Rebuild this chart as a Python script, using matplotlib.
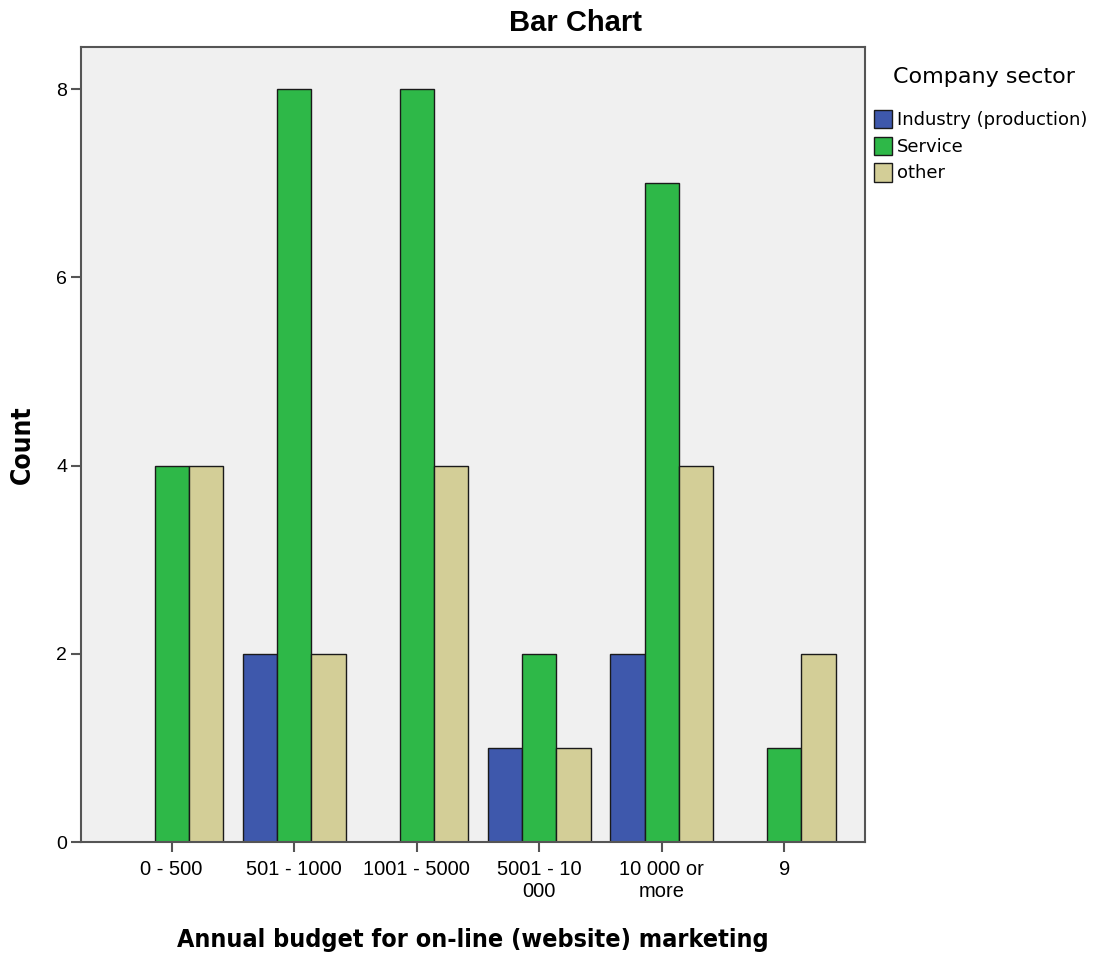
import numpy as np
import matplotlib
matplotlib.use("Agg")
import matplotlib.pyplot as plt
from matplotlib.patches import Patch

categorias = ["0 - 500", "501 - 1000", "1001 - 5000", "5001 - 10\n000", "10 000 or\nmore", "9"]
sectores = ["Industry (production)", "Service", "other"]
industria = [0, 2, 0, 1, 2, 0]
servicio = [4, 8, 8, 2, 7, 1]
otro = [4, 2, 4, 1, 4, 2]

colores = ["#3E58AC", "#2EB848", "#D3CE97"]
arial = ["Liberation Sans", "DejaVu Sans"]

fig = plt.figure(figsize=(11.02, 9.56), dpi=100)
ax = fig.add_axes([0.0735, 0.119, 0.7115, 0.832])
ax.set_facecolor("#F0F0F0")

x = np.arange(len(categorias))
ancho = 0.28
for i, (serie, color) in enumerate(zip([industria, servicio, otro], colores)):
    ax.bar(x + (i - 1) * ancho, serie, width=ancho, color=color,
           edgecolor="#1a1a1a", linewidth=1.0, zorder=2)

ax.set_xlim(-0.74, 5.66)
ax.set_ylim(0, 8.45)
ax.set_yticks([0, 2, 4, 6, 8])
ax.set_xticks(x)
ax.set_xticklabels(categorias, family=arial, fontsize=14.5, linespacing=1.15)
for t in ax.get_yticklabels():
    t.set_family(arial)
    t.set_fontsize(14)
ax.tick_params(axis="both", direction="out", length=7, width=1.5, color="#555555")
ax.tick_params(axis="x", pad=6)
ax.tick_params(axis="y", pad=3)
for s in ax.spines.values():
    s.set_color("#555555")
    s.set_linewidth(1.5)

fig.text(0.522, 0.976, "Bar Chart", family=arial, fontsize=21, fontweight="bold",
         ha="center", va="center")
ax.set_ylabel("Count", family="DejaVu Sans", fontstretch="condensed",
              fontsize=19, fontweight="bold", va="center")
ax.yaxis.set_label_coords(-0.074, 0.5)
ax.set_xlabel("Annual budget for on-line (website) marketing", family="DejaVu Sans",
              fontstretch="condensed", fontsize=18, fontweight="bold", va="center")
ax.xaxis.set_label_coords(0.5, -0.123)

handles = [Patch(facecolor=c, edgecolor="#1a1a1a", linewidth=1.0) for c in colores]
fig.legend(handles, sectores, loc="upper left", bbox_to_anchor=(0.793, 0.885),
           frameon=False, prop={"family": "DejaVu Sans", "size": 13},
           handlelength=1.0, handleheight=1.2, handletextpad=0.3, labelspacing=0.4,
           borderaxespad=0.0, borderpad=0.0)
fig.text(0.810, 0.919, "Company sector", family="DejaVu Sans", fontsize=16,
         ha="left", va="center")

fig.savefig("out.png", dpi=100)
